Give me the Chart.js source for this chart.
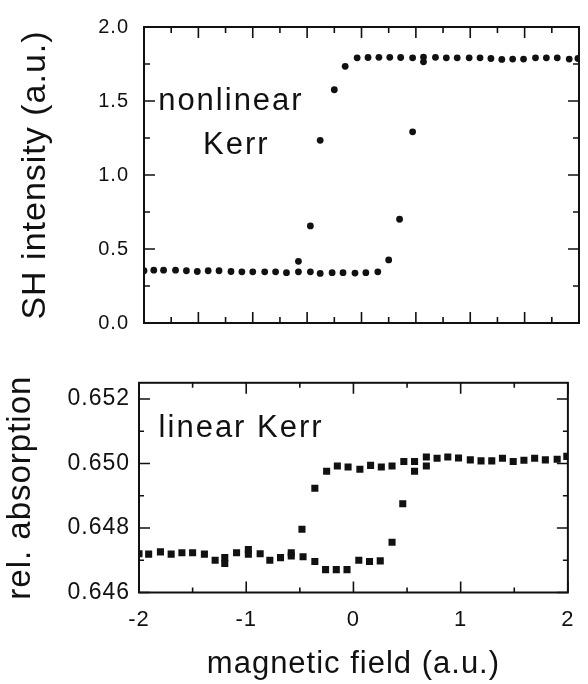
<!DOCTYPE html>
<html>
<head>
<meta charset="utf-8">
<script src="https://cdn.jsdelivr.net/npm/chart.js@4.4.1/dist/chart.umd.min.js"></script>
<style>
  html, body { margin: 0; padding: 0; background: #fff; }
  #wrap { position: relative; width: 588px; height: 684px; }
  #wrap canvas { position: absolute; left: 0; }
</style>
</head>
<body>
<div id="wrap">
  <canvas id="shChart" width="588" height="350" style="top:0"></canvas>
  <canvas id="absChart" width="588" height="324" style="top:360px"></canvas>
</div>
<script>
// nonlinear Kerr: SH intensity vs magnetic field (both sweep directions)
var shField = [
  -2.00, -1.91, -1.82, -1.71, -1.61, -1.51, -1.41, -1.31, -1.20, -1.10, -1.00, -0.89, -0.79,
  -0.69, -0.58, -0.47, -0.38, -0.27, -0.17, -0.06, 0.04, 0.15, 0.25, 0.35, 0.47, 0.57,
  -0.04, 0.06, 0.16, 0.26, 0.36, 0.47, 0.57, 0.68, 0.78, 0.88, 0.99, 1.09, 1.19, 1.29,
  1.39, 1.49, 1.60, 1.70, 1.80, 1.91, 1.99,
  -0.15, -0.25, -0.38, -0.47, -0.58
];
var shIntensity = [
  0.353, 0.357, 0.357, 0.357, 0.353, 0.348, 0.353, 0.353, 0.348, 0.346, 0.346, 0.346, 0.346,
  0.340, 0.346, 0.346, 0.335, 0.340, 0.340, 0.337, 0.340, 0.346, 0.426, 0.701, 1.292, 1.765,
  1.792, 1.794, 1.795, 1.795, 1.794, 1.792, 1.797, 1.795, 1.792, 1.792, 1.792, 1.792, 1.787, 1.781,
  1.783, 1.783, 1.792, 1.792, 1.792, 1.783, 1.787,
  1.734, 1.576, 1.234, 0.656, 0.417
];

// linear Kerr: relative absorption vs magnetic field
var absField = [
  -2.00, -1.91, -1.80, -1.70, -1.60, -1.50, -1.39, -1.29, -1.20, -1.20, -1.09, -0.98, -0.98,
  -0.87, -0.78, -0.68, -0.58, -0.58, -0.47, -0.36, -0.26, -0.16, -0.06, 0.05, 0.15, 0.25,
  0.36, 0.46, 0.57, 0.68,
  0.68, 0.78, 0.88, 0.98, 1.09, 1.19, 1.29, 1.39, 1.49, 1.59, 1.69, 1.79, 1.90, 1.99,
  0.57, 0.47, 0.36, 0.26, 0.16, 0.06, -0.05, -0.15, -0.25, -0.36, -0.48
];
var absValue = [
  0.64720, 0.64719, 0.64726, 0.64719, 0.64723, 0.64723, 0.64719, 0.64700, 0.64708, 0.64690,
  0.64723, 0.64733, 0.64719, 0.64720, 0.64700, 0.64708, 0.64723, 0.64713, 0.64711, 0.64696,
  0.64671, 0.64671, 0.64671, 0.64700, 0.64696, 0.64698, 0.64756, 0.64875, 0.64976, 0.64992,
  0.65020, 0.65016, 0.65020, 0.65017, 0.65011, 0.65008, 0.65008, 0.65016, 0.65006, 0.65010,
  0.65016, 0.65011, 0.65013, 0.65022,
  0.65006, 0.65006, 0.64992, 0.64989, 0.64994, 0.64982, 0.64989, 0.64992, 0.64976, 0.64923,
  0.64796
];

// tick labels
var fieldTicks = [-2, -1, 0, 1, 2];
var shTicks = [0, 0.5, 1.0, 1.5, 2.0];
var absTicks = [0.646, 0.648, 0.650, 0.652];

Chart.defaults.font.family = '"Liberation Sans", Arial, Helvetica, sans-serif';
Chart.defaults.color = "#111";

function toPoints(xs, ys) {
  return xs.map(function (x, i) { return { x: x, y: ys[i] }; });
}

// letter spacing for the scanned look of the labels
function spacing(px) {
  return {
    id: "spacing",
    beforeDraw: function (chart) { chart.ctx.letterSpacing = px; },
    afterDraw: function (chart) { chart.ctx.letterSpacing = "0px"; }
  };
}

// closed box with inward ticks on all four sides
function frame(xStep, yStep, longLen, shortLen) {
  return {
    id: "frame",
    afterDatasetsDraw: function (chart) {
      var ctx = chart.ctx, a = chart.chartArea;
      var x = chart.scales.x, y = chart.scales.y;
      ctx.save();
      ctx.strokeStyle = "#111";
      ctx.lineWidth = 2;
      ctx.strokeRect(a.left, a.top, a.right - a.left, a.bottom - a.top);
      ctx.lineWidth = 1.6;
      ctx.beginPath();
      for (var k = 0; x.min + k * xStep <= x.max + 1e-9; k++) {
        var px = x.getPixelForValue(x.min + k * xStep);
        var len = k % 2 === 0 ? longLen : shortLen;
        ctx.moveTo(px, a.bottom); ctx.lineTo(px, a.bottom - len);
        ctx.moveTo(px, a.top); ctx.lineTo(px, a.top + len);
      }
      for (var j = 0; y.min + j * yStep <= y.max + 1e-9; j++) {
        var py = y.getPixelForValue(y.min + j * yStep);
        var l2 = j % 2 === 0 ? longLen : shortLen;
        ctx.moveTo(a.left, py); ctx.lineTo(a.left + l2, py);
        ctx.moveTo(a.right, py); ctx.lineTo(a.right - l2, py);
      }
      ctx.stroke();
      ctx.restore();
    }
  };
}

function notes(items) {
  return {
    id: "notes",
    afterDatasetsDraw: function (chart) {
      var ctx = chart.ctx;
      ctx.save();
      ctx.font = '31px "Liberation Sans", Arial, sans-serif';
      ctx.letterSpacing = "2px";
      ctx.fillStyle = "#111";
      ctx.textBaseline = "middle";
      ctx.textAlign = "left";
      items.forEach(function (n) {
        ctx.fillText(n.text, chart.scales.x.getPixelForValue(n.x), chart.scales.y.getPixelForValue(n.y));
      });
      ctx.restore();
    }
  };
}

new Chart(document.getElementById("shChart"), {
  type: "scatter",
  data: {
    datasets: [{
      data: toPoints(shField, shIntensity),
      pointStyle: "circle",
      pointRadius: 3.4,
      pointBorderWidth: 0,
      backgroundColor: "#111"
    }]
  },
  options: {
    responsive: false,
    animation: false,
    events: [],
    layout: { padding: { top: 22, right: 9, left: 0, bottom: 0 } },
    plugins: { legend: { display: false }, tooltip: { enabled: false } },
    scales: {
      x: {
        type: "linear", min: -2, max: 2,
        grid: { display: false, drawTicks: false },
        border: { display: false },
        ticks: { display: false },
        afterFit: function (s) { s.height = 18; }
      },
      y: {
        type: "linear", min: 0, max: 2,
        grid: { display: false, drawTicks: false },
        border: { display: false },
        afterBuildTicks: function (s) { s.ticks = shTicks.map(function (v) { return { value: v }; }); },
        ticks: { padding: 15, font: { size: 20 }, callback: function (v) { return v.toFixed(1); } },
        title: { display: true, text: "SH intensity (a.u.)", font: { size: 34 }, padding: { top: 15, bottom: 0 } },
        afterFit: function (s) { s.width = 144; }
      }
    }
  },
  plugins: [
    spacing("1px"),
    frame(0.25, 0.25, 11, 6),
    notes([
      { text: "nonlinear", x: -1.87, y: 1.497 },
      { text: "Kerr", x: -1.457, y: 1.197 }
    ])
  ]
});

new Chart(document.getElementById("absChart"), {
  type: "scatter",
  data: {
    datasets: [{
      data: toPoints(absField, absValue),
      pointStyle: "rect",
      pointRadius: 5,
      pointBorderWidth: 0,
      backgroundColor: "#111"
    }]
  },
  options: {
    responsive: false,
    animation: false,
    events: [],
    layout: { padding: { top: 17.5, right: 13, left: 0, bottom: 0 } },
    plugins: { legend: { display: false }, tooltip: { enabled: false } },
    scales: {
      x: {
        type: "linear", min: -2, max: 2,
        grid: { display: false, drawTicks: false },
        border: { display: false },
        afterBuildTicks: function (s) { s.ticks = fieldTicks.map(function (v) { return { value: v }; }); },
        ticks: { padding: 14, font: { size: 22 }, maxRotation: 0 },
        title: { display: true, text: "magnetic field (a.u.)", font: { size: 31 }, padding: { top: 0, bottom: 0.6 } },
        afterFit: function (s) { s.height = 91.5; }
      },
      y: {
        type: "linear", min: 0.646, max: 0.6525,
        grid: { display: false, drawTicks: false },
        border: { display: false },
        afterBuildTicks: function (s) { s.ticks = absTicks.map(function (v) { return { value: v }; }); },
        ticks: { padding: 9, font: { size: 23 }, callback: function (v) { return v.toFixed(3); } },
        title: { display: true, text: "rel. absorption", font: { size: 33 }, padding: { top: 1, bottom: 0 } },
        afterFit: function (s) { s.width = 139; }
      }
    }
  },
  plugins: [
    spacing("1px"),
    frame(0.5, 0.001, 11, 5),
    notes([
      { text: "linear Kerr", x: -1.817, y: 0.65108 }
    ])
  ]
});
</script>
</body>
</html>
